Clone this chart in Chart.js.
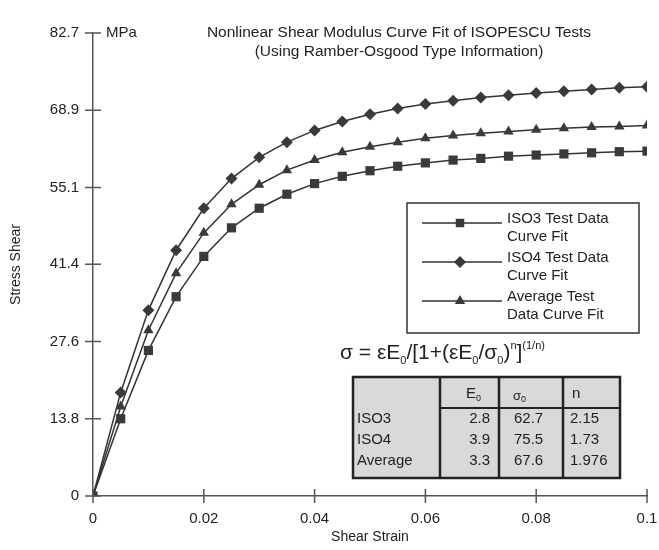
<!DOCTYPE html>
<html>
<head>
<meta charset="utf-8">
<script src="https://cdn.jsdelivr.net/npm/chart.js@4.4.1/dist/chart.umd.min.js"></script>
<style>
  html, body { margin: 0; padding: 0; background: #fff; }
  #wrap { width: 659px; height: 550px; position: relative; }
</style>
</head>
<body>
<div id="wrap"><canvas id="chShear"></canvas></div>
<script>
// shear strain values (x)
var strain = [0, 0.005, 0.01, 0.015, 0.02, 0.025, 0.03, 0.035, 0.04, 0.045, 0.05,
              0.055, 0.06, 0.065, 0.07, 0.075, 0.08, 0.085, 0.09, 0.095, 0.1];

// stress values (MPa)
var iso3 = [0, 13.8, 26.0, 35.6, 42.8, 47.9, 51.4, 53.9, 55.8, 57.1, 58.1,
            58.9, 59.5, 60.0, 60.3, 60.7, 60.9, 61.1, 61.3, 61.5, 61.6];
var iso4 = [0, 18.5, 33.2, 43.9, 51.4, 56.7, 60.5, 63.2, 65.3, 66.9, 68.2,
            69.2, 70.0, 70.6, 71.2, 71.6, 72.0, 72.3, 72.6, 72.9, 73.1];
var avg = [0, 16.0, 29.6, 39.8, 47.0, 52.1, 55.6, 58.2, 60.0, 61.4, 62.4,
           63.2, 63.9, 64.4, 64.8, 65.1, 65.4, 65.7, 65.9, 66.0, 66.2];

// tick labels
var yTicks = [0, 13.8, 27.6, 41.4, 55.1, 68.9, 82.7];
var xTicks = [0, 0.02, 0.04, 0.06, 0.08, 0.1];

// legend + table text
var seriesNames = [['ISO3 Test Data', 'Curve Fit'], ['ISO4 Test Data', 'Curve Fit'], ['Average Test', 'Data Curve Fit']];
var pointStyles = ['rect', 'rectRot', 'triangle'];
var tableRows = [['ISO3', '2.8', '62.7', '2.15'],
                 ['ISO4', '3.9', '75.5', '1.73'],
                 ['Average', '3.3', '67.6', '1.976']];

var ink = '#333';
var font = '"Liberation Sans", Arial, sans-serif';

function pts(ys) {
  return strain.map(function (x, i) { return {x: x, y: ys[i]}; });
}

function mkSet(label, ys, style, r) {
  return {
    label: label, data: pts(ys),
    borderColor: ink, backgroundColor: ink, borderWidth: 1.5,
    pointStyle: style, pointRadius: r, pointBorderWidth: 0,
    pointBackgroundColor: '#3a3a3a', tension: 0
  };
}

// draw axis tick marks, titles, legend box, formula and table
var decor = {
  id: 'decor',
  afterDraw: function (chart) {
    var c = chart.ctx, xs = chart.scales.x, ys = chart.scales.y;
    var left = chart.chartArea.left, bottom = chart.chartArea.bottom;
    c.save();
    c.strokeStyle = '#555';
    c.lineWidth = 1.5;
    yTicks.forEach(function (v) {
      var py = ys.getPixelForValue(v);
      c.beginPath(); c.moveTo(left - 8, py); c.lineTo(left + 8, py); c.stroke();
    });
    xTicks.forEach(function (v) {
      var px = xs.getPixelForValue(v);
      c.beginPath(); c.moveTo(px, bottom - 7); c.lineTo(px, bottom + 7); c.stroke();
    });

    c.fillStyle = '#222';
    c.font = '15px ' + font;
    c.textBaseline = 'middle';
    c.textAlign = 'left';
    c.fillText('MPa', left + 13, ys.getPixelForValue(82.7));
    c.textAlign = 'center';
    c.font = '15.5px ' + font;
    c.fillText('Nonlinear Shear Modulus Curve Fit of ISOPESCU Tests', 399, 33);
    c.fillText('(Using Ramber-Osgood Type Information)', 399, 52);

    // legend box
    var lx = 407, ly = 203, lw = 232, lh = 130;
    c.lineWidth = 1.5;
    c.strokeStyle = '#333';
    c.strokeRect(lx, ly, lw, lh);
    c.textAlign = 'left';
    c.font = '15px ' + font;
    seriesNames.forEach(function (lines, i) {
      var cy = ly + 20 + i * 39;
      c.strokeStyle = ink; c.lineWidth = 1.5;
      c.beginPath(); c.moveTo(lx + 15, cy); c.lineTo(lx + 95, cy); c.stroke();
      c.fillStyle = '#3a3a3a';
      Chart.helpers.drawPoint(c, {pointStyle: pointStyles[i], radius: 6, borderWidth: 0}, lx + 53, cy);
      c.fillStyle = '#222';
      c.fillText(lines[0], lx + 100, cy - 4);
      c.fillText(lines[1], lx + 100, cy + 14);
    });

    // formula
    c.textBaseline = 'alphabetic';
    var fx = 340, fy = 359;
    function part(t, sz, dy) {
      c.font = sz + 'px ' + font;
      c.fillText(t, fx, fy + dy);
      fx += c.measureText(t).width;
    }
    part('\u03c3 = \u03b5E', 21, 0); part('0', 11, 5);
    part('/[1+(\u03b5E', 21, 0); part('0', 11, 5);
    part('/\u03c3', 21, 0); part('0', 11, 5);
    part(')', 21, 0); part('n', 11, -10);
    part(']', 21, 0); part('(1/n)', 11, -10);

    // table
    var tx = 353, ty = 377, tw = 267, th = 101;
    var colX = [353, 440, 499, 563, 620];
    c.fillStyle = '#d9d9d9';
    c.fillRect(tx, ty, tw, th);
    c.strokeStyle = '#222'; c.lineWidth = 2.5;
    c.strokeRect(tx, ty, tw, th);
    for (var k = 1; k < 4; k++) {
      c.beginPath(); c.moveTo(colX[k], ty); c.lineTo(colX[k], ty + th); c.stroke();
    }
    c.lineWidth = 2;
    c.beginPath(); c.moveTo(colX[1], ty + 31); c.lineTo(colX[4], ty + 31); c.stroke();

    c.fillStyle = '#222';
    c.textBaseline = 'middle';
    c.font = '15px ' + font;
    c.textAlign = 'left';
    c.fillText('E', 466, ty + 17);
    var ew = c.measureText('E').width;
    c.font = '9px ' + font; c.fillText('0', 466 + ew, ty + 22);
    c.font = '13px ' + font; c.fillText('\u03c3', 513, ty + 19);
    c.font = '9px ' + font; c.fillText('0', 521, ty + 23);
    c.font = '15px ' + font; c.fillText('n', 572, ty + 17);

    tableRows.forEach(function (row, i) {
      var ry = ty + 42 + i * 21;
      c.textAlign = 'left';
      c.fillText(row[0], 357, ry);
      c.textAlign = 'right';
      c.fillText(row[1], 490, ry);
      c.textAlign = 'left';
      c.fillText(row[2], 514, ry);
      c.fillText(row[3], 570, ry);
    });
    c.restore();
  }
};

var chShear = document.getElementById('chShear');

if (chShear) {
  new Chart(chShear, {
    type: 'line',
    data: {
      datasets: [
        mkSet('ISO3 Test Data Curve Fit', iso3, 'rect', 6.5),
        mkSet('ISO4 Test Data Curve Fit', iso4, 'rectRot', 6),
        mkSet('Average Test Data Curve Fit', avg, 'triangle', 6)
      ]
    },
    options: {
      responsive: true,
      maintainAspectRatio: false,
      animation: false,
      layout: {padding: {top: 33, right: 12, bottom: 0, left: 0}},
      plugins: {legend: {display: false}, tooltip: {enabled: false}},
      scales: {
        x: {
          type: 'linear', min: 0, max: 0.1,
          afterBuildTicks: function (s) { s.ticks = xTicks.map(function (v) { return {value: v}; }); },
          afterFit: function (s) { s.height = 54; s.paddingLeft = 0; s.paddingRight = 0; },
          grid: {display: false, drawTicks: false},
          border: {display: true, color: '#555', width: 1.5},
          ticks: {
            color: '#222', padding: 14, maxRotation: 0,
            font: {family: font, size: 15},
            callback: function (v) { return String(v); }
          },
          title: {display: true, text: 'Shear Strain', color: '#222', font: {family: font, size: 14}, padding: {top: 0}}
        },
        y: {
          type: 'linear', min: 0, max: 82.7,
          afterBuildTicks: function (s) { s.ticks = yTicks.map(function (v) { return {value: v}; }); },
          afterFit: function (s) { s.width = 93; },
          grid: {display: false, drawTicks: false},
          border: {display: true, color: '#555', width: 1.5},
          ticks: {
            color: '#222', padding: 14,
            font: {family: font, size: 15},
            callback: function (v) { return String(v); }
          },
          title: {display: true, text: 'Stress Shear', color: '#222', font: {family: font, size: 14}, padding: {top: 8, bottom: 0}}
        }
      }
    },
    plugins: [decor]
  });
}
</script>
</body>
</html>
